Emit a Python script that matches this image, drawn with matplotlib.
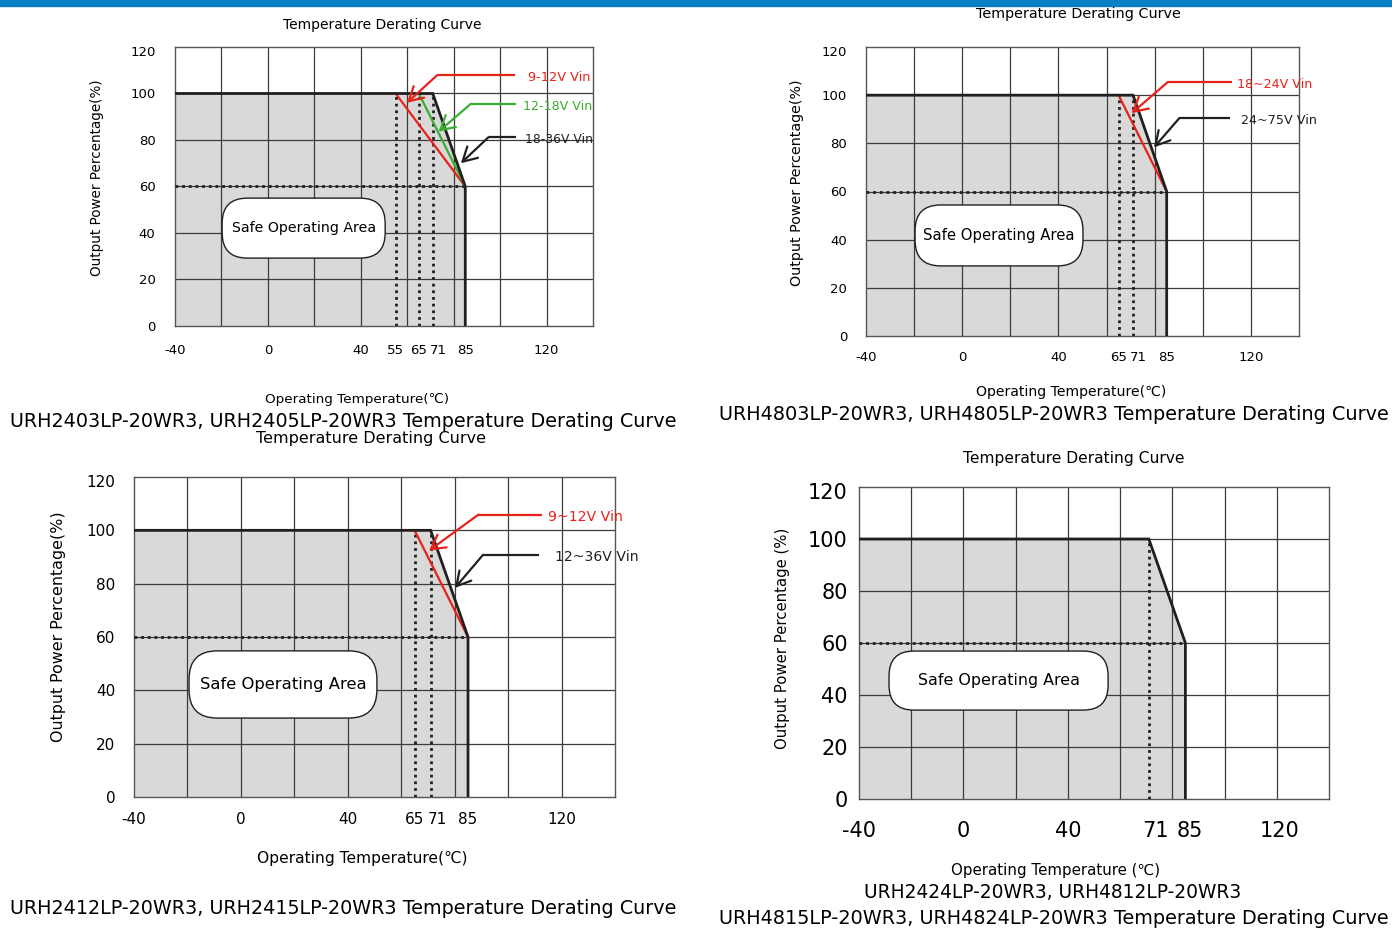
import matplotlib
matplotlib.use('Agg')
import matplotlib.pyplot as plt
from matplotlib.patches import FancyBboxPatch, Rectangle
from matplotlib.transforms import ScaledTranslation

plt.rcParams['font.family'] = ['DejaVu Sans']

W, H = 1392, 931
fig = plt.figure(figsize=(W / 100, H / 100), dpi=100)
renderer = fig.canvas.get_renderer()

# ---------------- data ----------------
grid_T = [-40, -20, 0, 20, 40, 60, 80, 100, 120, 140]
grid_P = [0, 20, 40, 60, 80, 100, 120]
y_ticks = [0, 20, 40, 60, 80, 100, 120]
derate_level = 60

# panel 1: URH2403LP / URH2405LP
p1_xticks = [-40, 0, 40, 55, 65, 71, 85, 120]
p1_curve_T = [-40, 71, 85, 85]
p1_curve_P = [100, 100, 60, 0]
p1_red_T = [55, 85]
p1_red_P = [100, 60]
p1_green_T = [65, 85]
p1_green_P = [100, 60]
p1_dot_T = [55, 65, 71]
p1_vin = ['9-12V Vin', '12-18V Vin', '18-36V Vin']

# panel 2: URH4803LP / URH4805LP
p2_xticks = [-40, 0, 40, 65, 71, 85, 120]
p2_curve_T = [-40, 71, 85, 85]
p2_curve_P = [100, 100, 60, 0]
p2_red_T = [65, 85]
p2_red_P = [100, 60]
p2_dot_T = [65, 71]
p2_vin = ['18~24V Vin', '24~75V Vin']

# panel 3: URH2412LP / URH2415LP
p3_xticks = [-40, 0, 40, 65, 71, 85, 120]
p3_curve_T = [-40, 71, 85, 85]
p3_curve_P = [100, 100, 60, 0]
p3_red_T = [65, 85]
p3_red_P = [100, 60]
p3_dot_T = [65, 71]
p3_vin = ['9~12V Vin', '12~36V Vin']

# panel 4: URH2424LP / URH4812LP / URH4815LP / URH4824LP
p4_xticks = [-40, 0, 40, 71, 85, 120]
p4_curve_T = [-40, 71, 85, 85]
p4_curve_P = [100, 100, 60, 0]
p4_dot_T = [71]

title_txt = 'Temperature Derating Curve'
ylabel_txt = 'Output Power Percentage(%)'
ylabel4_txt = 'Output Power Percentage (%)'
xlabel_txt = 'Operating Temperature(\u2103)'
xlabel4_txt = 'Operating Temperature (\u2103)'
safe_txt = 'Safe Operating Area'
cap1 = 'URH2403LP-20WR3, URH2405LP-20WR3 Temperature Derating Curve'
cap2 = 'URH4803LP-20WR3, URH4805LP-20WR3 Temperature Derating Curve'
cap3 = 'URH2412LP-20WR3, URH2415LP-20WR3 Temperature Derating Curve'
cap4a = 'URH2424LP-20WR3, URH4812LP-20WR3'
cap4b = 'URH4815LP-20WR3, URH4824LP-20WR3 Temperature Derating Curve'

RED = '#e8221b'
GREEN = '#3aae33'
BLACK = '#231f20'
GRIDC = '#3c3c3c'
FILL = '#d9d9d9'


def fit(t, target, use_height=False):
    bb = t.get_window_extent(renderer)
    cur = bb.height if use_height else bb.width
    t.set_fontsize(t.get_fontsize() * target / cur)
    return t


def ftext(xp, yp, s, target, rot=0, fs=10):
    t = fig.text(xp / W, 1 - yp / H, s, ha='center', va='center',
                 rotation=rot, fontsize=fs, color='black')
    return fit(t, target, use_height=(rot == 90))


def panel(px, xticks, cT, cP, dotT, tick_fs, ypad, xpad, safe, safe_w):
    x0, yt, x1, yb = px
    ax = fig.add_axes([x0 / W, 1 - yb / H, (x1 - x0) / W, (yb - yt) / H])
    ax.set_xlim(grid_T[0], grid_T[-1])
    ax.set_ylim(grid_P[0], grid_P[-1])
    ax.fill_between(cT, cP, 0, color=FILL, lw=0, zorder=1)
    for t in grid_T[1:-1]:
        ax.axvline(t, color=GRIDC, lw=0.9, zorder=2)
    for p in grid_P[1:-1]:
        ax.axhline(p, color=GRIDC, lw=0.9, zorder=2)
    for s in ax.spines.values():
        s.set_color('#555555')
        s.set_linewidth(1.0)
    # dotted guides
    ax.plot([cT[0], cT[-1]], [derate_level, derate_level], color=BLACK, lw=2.0,
            ls=(0, (1, 1.4)), zorder=3)
    for t in dotT:
        ax.plot([t, t], [0, cP[0]], color=BLACK, lw=2.0, ls=(0, (1, 1.4)), zorder=3)
    ax.plot(cT, cP, color=BLACK, lw=2.0, zorder=5, solid_joinstyle='miter')
    ax.set_xticks(xticks)
    ax.set_yticks(y_ticks)
    ax.set_xticklabels([str(v) for v in xticks])
    ax.set_yticklabels([str(v) for v in y_ticks])
    ax.tick_params(axis='both', length=0, labelsize=tick_fs, colors='black')
    ax.tick_params(axis='y', pad=ypad)
    ax.tick_params(axis='x', pad=xpad)
    # safe operating area box
    sx0, sx1, sy0, sy1 = safe
    pxx = (x1 - x0) / (grid_T[-1] - grid_T[0])
    pxy = (yb - yt) / (grid_P[-1] - grid_P[0])
    r = 0.42 * (sy1 - sy0) * pxy / pxx
    box = FancyBboxPatch((sx0, sy0), sx1 - sx0, sy1 - sy0,
                         boxstyle='round,pad=0,rounding_size=%f' % r,
                         mutation_aspect=pxx / pxy,
                         fc='white', ec=BLACK, lw=1.0, zorder=6)
    ax.add_patch(box)
    t = ax.text((sx0 + sx1) / 2, (sy0 + sy1) / 2, safe_txt, ha='center', va='center',
                fontsize=11, zorder=7)
    fit(t, safe_w)
    return ax


def note(ax, label, color, start_x, elbow_x, line_y, tip, text_x, target_w):
    ax.plot([start_x, elbow_x], [line_y, line_y], color=color, lw=1.6, zorder=8,
            solid_capstyle='butt')
    ax.annotate('', xy=tip, xytext=(elbow_x, line_y),
                arrowprops=dict(arrowstyle='->,head_length=0.5,head_width=0.28',
                                color=color, lw=1.6, mutation_scale=20,
                                shrinkA=0, shrinkB=0), zorder=8)
    t = ax.text(text_x, line_y - 0.8, label, color=color, ha='left', va='center',
                fontsize=9, zorder=8)
    fit(t, target_w)


# blue header strip
fig.patches.append(Rectangle((0, 1 - 6 / H), 1, 6 / H, transform=fig.transFigure,
                             color='#0a7fc6', zorder=0))

# ---------- panel 1 ----------
ax1 = panel((175, 47, 593, 326), p1_xticks, p1_curve_T, p1_curve_P, p1_dot_T,
            9.5, 14, 13, (-19.7, 50.5, 29.2, 55.0), 144)
ax1.plot(p1_red_T, p1_red_P, color=RED, lw=1.6, zorder=4)
ax1.plot(p1_green_T, p1_green_P, color=GREEN, lw=1.6, zorder=4)
note(ax1, p1_vin[0], RED, 106.6, 72.8, 107.8, (59.9, 96.0), 112.0, 62)
note(ax1, p1_vin[1], GREEN, 106.8, 87.2, 95.4, (73.5, 83.6), 109.8, 69)
note(ax1, p1_vin[2], BLACK, 106.8, 95.0, 81.2, (83.1, 70.0), 110.8, 68)
ftext(382, 25, title_txt, 198)
ftext(97, 178, ylabel_txt, 196, rot=90)
ftext(357, 399, xlabel_txt, 183)
ftext(343.5, 421, cap1, 667)

# ---------- panel 2 ----------
ax2 = panel((866, 47, 1299, 336), p2_xticks, p2_curve_T, p2_curve_P, p2_dot_T,
            9.5, 13.5, 11, (-19.6, 50.2, 29.1, 54.4), 151)
ax2.plot(p2_red_T, p2_red_P, color=RED, lw=1.6, zorder=4)
note(ax2, p2_vin[0], RED, 112.0, 85.3, 105.3, (70.4, 92.5), 114.1, 75)
note(ax2, p2_vin[1], BLACK, 111.3, 90.2, 90.4, (79.7, 78.3), 115.9, 76)
ftext(1078, 14, title_txt, 205)
ftext(797, 183, ylabel_txt, 206, rot=90)
ftext(1071, 392, xlabel_txt, 190)
ftext(1054, 414, cap2, 668)

# ---------- panel 3 ----------
ax3 = panel((134, 477, 615, 797), p3_xticks, p3_curve_T, p3_curve_P, p3_dot_T,
            11, 13.5, 11, (-19.4, 50.9, 29.6, 54.8), 167)
ax3.plot(p3_red_T, p3_red_P, color=RED, lw=1.6, zorder=4)
note(ax3, p3_vin[0], RED, 112.7, 88.9, 105.9, (70.4, 92.4), 114.8, 75)
note(ax3, p3_vin[1], BLACK, 111.4, 90.6, 90.8, (80.1, 78.4), 117.5, 83)
ftext(371, 439, title_txt, 228)
ftext(59, 627, ylabel_txt, 230, rot=90)
ftext(362, 858, xlabel_txt, 211)
ftext(343.5, 908, cap3, 667)

# ---------- panel 4 ----------
ax4 = panel((859, 487, 1329, 799), p4_xticks, p4_curve_T, p4_curve_P, p4_dot_T,
            15, 8, 16, (-28.5, 55.4, 34.2, 56.9), 162)
ftext(1074, 459, title_txt, 222)
ftext(783, 638, ylabel4_txt, 220, rot=90)
ftext(1056, 871, xlabel4_txt, 208)
ftext(1053, 892, cap4a, 375)
ftext(1054, 919, cap4b, 668)

# nudge crowded tick labels apart (as in the original drawing)
fig.canvas.draw()
x_nudge = [(ax1, {'71': 6}), (ax2, {'71': 5}), (ax3, {'71': 7}),
           (ax4, {'71': 7, '85': 4, '120': 3})]
for ax, shifts in x_nudge:
    for lab in ax.get_xticklabels():
        dx = shifts.get(lab.get_text(), 0)
        if dx:
            lab.set_transform(lab.get_transform() +
                              ScaledTranslation(dx / 100, 0, fig.dpi_scale_trans))
    for lab in ax.get_yticklabels():
        if lab.get_text() == '120':
            lab.set_transform(lab.get_transform() +
                              ScaledTranslation(0, -4 / 100, fig.dpi_scale_trans))

fig.savefig('out.png', dpi=100)
